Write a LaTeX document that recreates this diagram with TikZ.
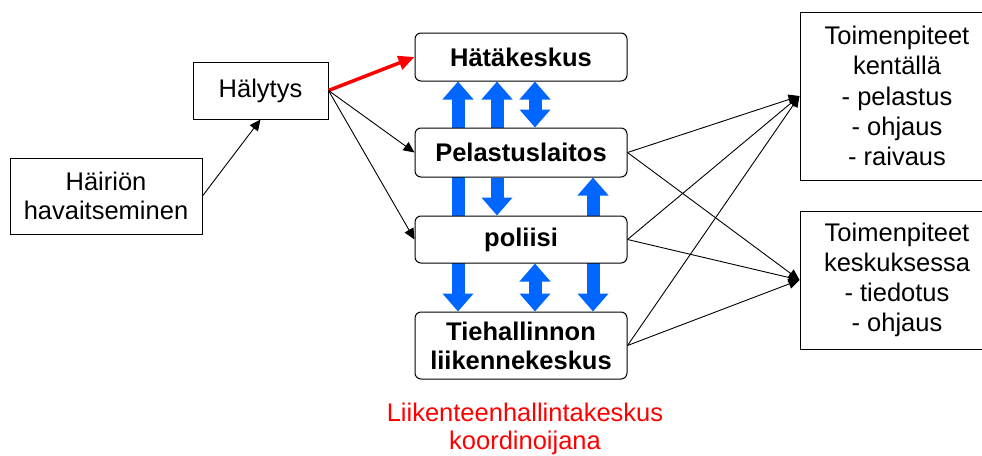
\documentclass[tikz,border=0pt]{standalone}
\usepackage{fontspec}
\setmainfont{Liberation Sans}
\usetikzlibrary{arrows.meta,backgrounds}

\definecolor{nuolisin}{RGB}{0,102,255}
\definecolor{punainen}{RGB}{255,0,0}

\tikzset{
  laatikko/.style={draw, line width=1pt, fill=white, align=center, inner sep=0pt,
    font=\fontsize{25.5}{29.5}\selectfont},
  keskus/.style={laatikko, rounded corners=6pt, minimum width=212pt, font=\fontsize{25.5}{29}\selectfont\bfseries},
  viiva/.style={line width=0.9pt, -{Triangle[length=11pt,width=10pt]}},
  sininen/.style={draw=nuolisin, line width=13pt, -{Triangle[length=18pt,width=30pt]}},
  sininen2/.style={draw=nuolisin, line width=13pt, {Triangle[length=18pt,width=30pt]}-{Triangle[length=18pt,width=30pt]}}
}

\begin{document}
\begin{tikzpicture}[x=1pt,y=-1pt]
\useasboundingbox (0,0) rectangle (982,455);

% vasen puoli
\node[laatikko, minimum width=192pt, minimum height=76pt] (hairio) at (106,196) {Häiriön\\havaitseminen};
\node[laatikko, minimum width=135pt, minimum height=57pt] (halytys) at (260.5,90.5) {Hälytys};

% keskukset
\node[keskus, minimum height=48pt] (hatakeskus) at (521,57) {Hätäkeskus};
\node[keskus, minimum height=49pt] (pelastus) at (521,152.5) {Pelastuslaitos};
\node[keskus, minimum height=47pt] (poliisi) at (521,239.5) {poliisi};
\node[keskus, minimum height=67pt] (tiehallinto) at (521,345.5) {Tiehallinnon\\liikennekeskus};

% oikea puoli
\node[laatikko, minimum width=194pt, minimum height=168pt, font=\fontsize{25.5}{30.2}\selectfont] (kentalla) at (897,96) {Toimenpiteet\\kentällä\\- pelastus\\- ohjaus\\- raivaus};
\node[laatikko, minimum width=194pt, minimum height=138pt, font=\fontsize{25.5}{30.2}\selectfont] (keskuksessa) at (897,280) {Toimenpiteet\\keskuksessa\\- tiedotus\\- ohjaus};

\node[text=punainen, align=center, font=\fontsize{25.5}{28}\selectfont] (koordinoija) at (525,429) {Liikenteenhallintakeskus\\koordinoijana};

% siniset nuolet
\coordinate (s1) at (458,0);
\coordinate (s2) at (497,0);
\coordinate (s3) at (535,0);
\coordinate (s4) at (593,0);
\begin{pgfonlayer}{background}
\draw[sininen2] (hatakeskus.south -| s1) -- (tiehallinto.north -| s1);
\draw[sininen] (pelastus.north -| s2) -- (hatakeskus.south -| s2);
\draw[sininen2] (pelastus.north -| s3) -- (hatakeskus.south -| s3);
\draw[sininen] (pelastus.south -| s2) -- (poliisi.north -| s2);
\draw[sininen2] (poliisi.south -| s3) -- (tiehallinto.north -| s3);
\draw[sininen2] (pelastus.south -| s4) -- (tiehallinto.north -| s4);
\end{pgfonlayer}

% mustat nuolet
\draw[viiva] (hairio.east) -- (halytys.south);
\draw[draw=punainen, line width=3.5pt, -{Triangle[length=16pt,width=14pt]}] (halytys.east) -- (hatakeskus.west);
\draw[viiva] (halytys.east) -- (pelastus.west);
\draw[viiva] (halytys.east) -- (poliisi.west);
\foreach \lahto in {pelastus,poliisi,tiehallinto}{
  \draw[viiva] (\lahto.east) -- (kentalla.west);
  \draw[viiva] (\lahto.east) -- (keskuksessa.west);
}

\end{tikzpicture}
\end{document}
